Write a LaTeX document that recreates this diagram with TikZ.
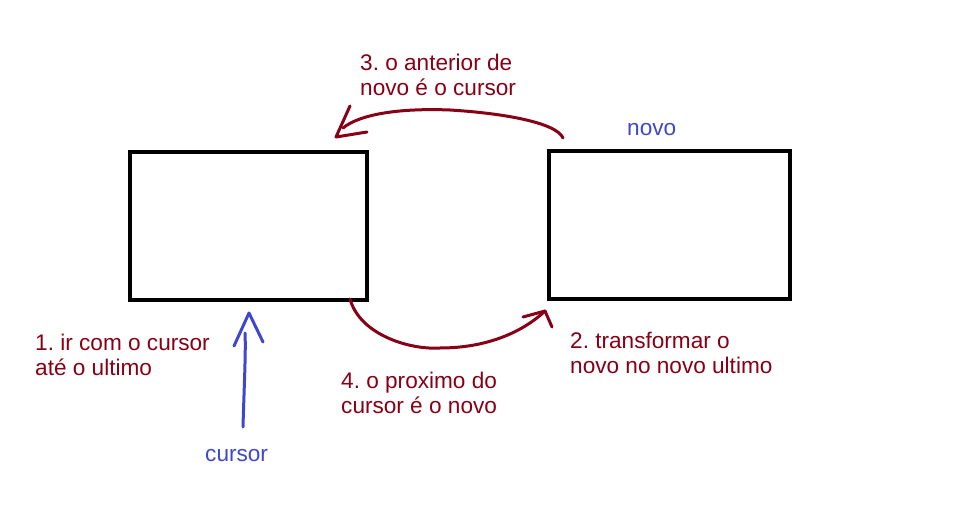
\documentclass[tikz,border=0pt]{standalone}
\usepackage{fontspec}
\setmainfont{Liberation Sans}
\frenchspacing
\begin{document}
\begin{tikzpicture}[x=1pt,y=-1pt,
  lbl/.style={text=dred,font=\fontsize{22.6}{25}\selectfont,align=left,anchor=west,inner sep=0pt},
  blbl/.style={text=pblue,font=\fontsize{22.6}{25}\selectfont,anchor=west,inner sep=0pt},
  boxnode/.style={draw=black,line width=4pt,minimum width=#1,minimum height=148pt,inner sep=0pt},
  redline/.style={draw=dred,line width=3pt,line cap=round,line join=round},
  blueline/.style={draw=pblue,line width=3pt,line cap=round,line join=round}]
\definecolor{dred}{RGB}{136,0,21}
\definecolor{pblue}{RGB}{63,72,204}
\useasboundingbox[fill=white] (0,0) rectangle (977,505);
% boxes
\node[boxnode=237pt] (cur) at (248.5,226) {};
\node[boxnode=241pt] (nov) at (669.5,225) {};
% labels
\node[lbl] (t3) at (360,75) {3. o anterior de\\novo é o cursor};
\node[blbl] (tnovo) at (627,130) {novo};
\node[lbl] (t1) at (35,355) {1. ir com o cursor\\até o ultimo};
\node[lbl] (t2) at (570,353) {2. transformar o\\novo no novo ultimo};
\node[lbl] (t4) at (341,393) {4. o proximo do\\cursor é o novo};
\node[blbl] (tcur) at (205,456) {cursor};
% top arrow: anterior
\coordinate (a3s) at (563,138);
\coordinate (a3t) at (336,137);
\draw[redline] (a3s) .. controls (556,122) and (500,113) .. (450,110)
   .. controls (400,108) and (360,114) .. (343,128);
\draw[redline] (350,106) -- (a3t) -- (367,132);
% bottom arrow: proximo
\coordinate (a4s) at (350,299);
\coordinate (a4t) at (545,311);
\draw[redline] (a4s) .. controls (360,335) and (410,350) .. (440,348)
   .. controls (490,348) and (525,330) .. (a4t);
\draw[redline] (523,317) -- (a4t) -- (552,327);
% blue arrow
\coordinate (bs) at (243,427);
\coordinate (bt) at (249,313);
\draw[blueline] (bs) .. controls (244,390) and (246,350) .. (245,333);
\draw[blueline] (234,346) -- (bt) -- (263,342);
\end{tikzpicture}
\end{document}
